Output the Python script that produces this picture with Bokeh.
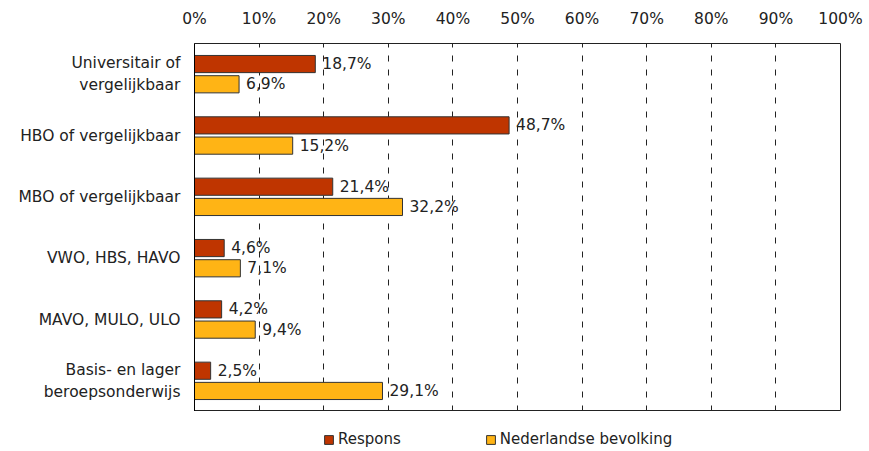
from bokeh.plotting import figure
from bokeh.layouts import column
from bokeh.models import (FactorRange, Range1d, PrintfTickFormatter,
                          FixedTicker, ColumnDataSource, Legend, LegendItem)
from bokeh.transform import dodge
from bokeh.embed import file_html
from bokeh.resources import INLINE
from bokeh.core.properties import value

categories = ["Universitair of\nvergelijkbaar", "HBO of vergelijkbaar", "MBO of vergelijkbaar",
              "VWO, HBS, HAVO", "MAVO, MULO, ULO", "Basis- en lager\nberoepsonderwijs"]
respons = [18.7, 48.7, 21.4, 4.6, 4.2, 2.5]
bevolking = [6.9, 15.2, 32.2, 7.1, 9.4, 29.1]
respons_labels = ["18,7%", "48,7%", "21,4%", "4,6%", "4,2%", "2,5%"]
bevolking_labels = ["6,9%", "15,2%", "32,2%", "7,1%", "9,4%", "29,1%"]
x_ticks = [0, 10, 20, 30, 40, 50, 60, 70, 80, 90, 100]
series_names = ["Respons", "Nederlandse bevolking"]

RED = "#BF3500"
YEL = "#FFB415"
FONT = "DejaVu Sans"
FS = "15.5px"
LFS = "15px"
TXT = "#222222"
NB = "\u00a0"

src = ColumnDataSource(dict(cat=categories, r=respons, b=bevolking,
                            rl=respons_labels, bl=bevolking_labels))

p = figure(width=869, height=411, output_backend="svg", toolbar_location=None,
           y_range=FactorRange(factors=list(reversed(categories)), range_padding=0),
           x_range=Range1d(0, 100), x_axis_location="above",
           min_border_left=194, min_border_right=29, min_border_top=43, min_border_bottom=0)

p.outline_line_color = "#222222"
p.outline_line_width = 1

xa = p.xaxis[0]
xa.ticker = FixedTicker(ticks=x_ticks)
xa.formatter = PrintfTickFormatter(format="%d%%")
xa.major_tick_line_color = None
xa.major_tick_out = 0
xa.major_tick_in = 0
xa.minor_tick_line_color = None
xa.axis_line_color = None
xa.major_label_text_font = FONT
xa.major_label_text_font_size = FS
xa.major_label_text_color = TXT
xa.major_label_standoff = 16

ya = p.yaxis[0]
ya.major_tick_line_color = None
ya.major_tick_out = 0
ya.major_tick_in = 0
ya.minor_tick_line_color = None
ya.axis_line_color = "black"
ya.major_label_text_font = FONT
ya.major_label_text_font_size = FS
ya.major_label_text_color = TXT
ya.major_label_standoff = 14
# centre the two-line labels the way the original does
ya.major_label_overrides = {
    categories[0]: categories[0] + NB,
    categories[5]: categories[5].replace("\n", NB + NB + "\n"),
}

p.ygrid.grid_line_color = None
p.xgrid.ticker = FixedTicker(ticks=x_ticks[1:-1])
p.xgrid.grid_line_color = "#222222"
p.xgrid.grid_line_dash = "6 8"
p.xgrid.grid_line_width = 1

h = 0.28
p.hbar(y=dodge("cat", 0.165, range=p.y_range), right="r", left=0, height=h,
       source=src, fill_color=RED, line_color="#333333", line_width=1)
p.hbar(y=dodge("cat", -0.165, range=p.y_range), right="b", left=0, height=h,
       source=src, fill_color=YEL, line_color="#333333", line_width=1)

p.text(x="r", y=dodge("cat", 0.165, range=p.y_range), text="rl", source=src,
       x_offset=7, text_baseline="middle", text_align="left",
       text_font=value(FONT), text_font_size=FS, text_color=TXT)
p.text(x="b", y=dodge("cat", -0.165, range=p.y_range), text="bl", source=src,
       x_offset=7, text_baseline="middle", text_align="left",
       text_font=value(FONT), text_font_size=FS, text_color=TXT)

# legend strip below the chart
lg = figure(width=869, height=40, output_backend="svg", toolbar_location=None,
            x_range=Range1d(0, 1), y_range=Range1d(0, 1),
            min_border_left=0, min_border_right=0, min_border_top=0, min_border_bottom=0)
lg.axis.visible = False
lg.grid.grid_line_color = None
lg.outline_line_color = None
dummy = ColumnDataSource(dict(y=[-10], right=[-10]))
r1 = lg.hbar(y="y", right="right", height=0.1, source=dummy, fill_color=RED, line_color="#333333")
r2 = lg.hbar(y="y", right="right", height=0.1, source=dummy, fill_color=YEL, line_color="#333333")
legend = Legend(items=[LegendItem(label=series_names[0], renderers=[r1]),
                       LegendItem(label=series_names[1], renderers=[r2])],
                orientation="horizontal", location=(129, 3),
                glyph_width=11, glyph_height=11, label_standoff=4, spacing=84,
                padding=0, margin=0, border_line_color=None, background_fill_alpha=0,
                label_text_font=FONT, label_text_font_size=LFS, label_text_color=TXT)
lg.add_layout(legend, "center")

layout = column(p, lg, spacing=0)
open("out.html", "w").write(file_html(layout, INLINE))
